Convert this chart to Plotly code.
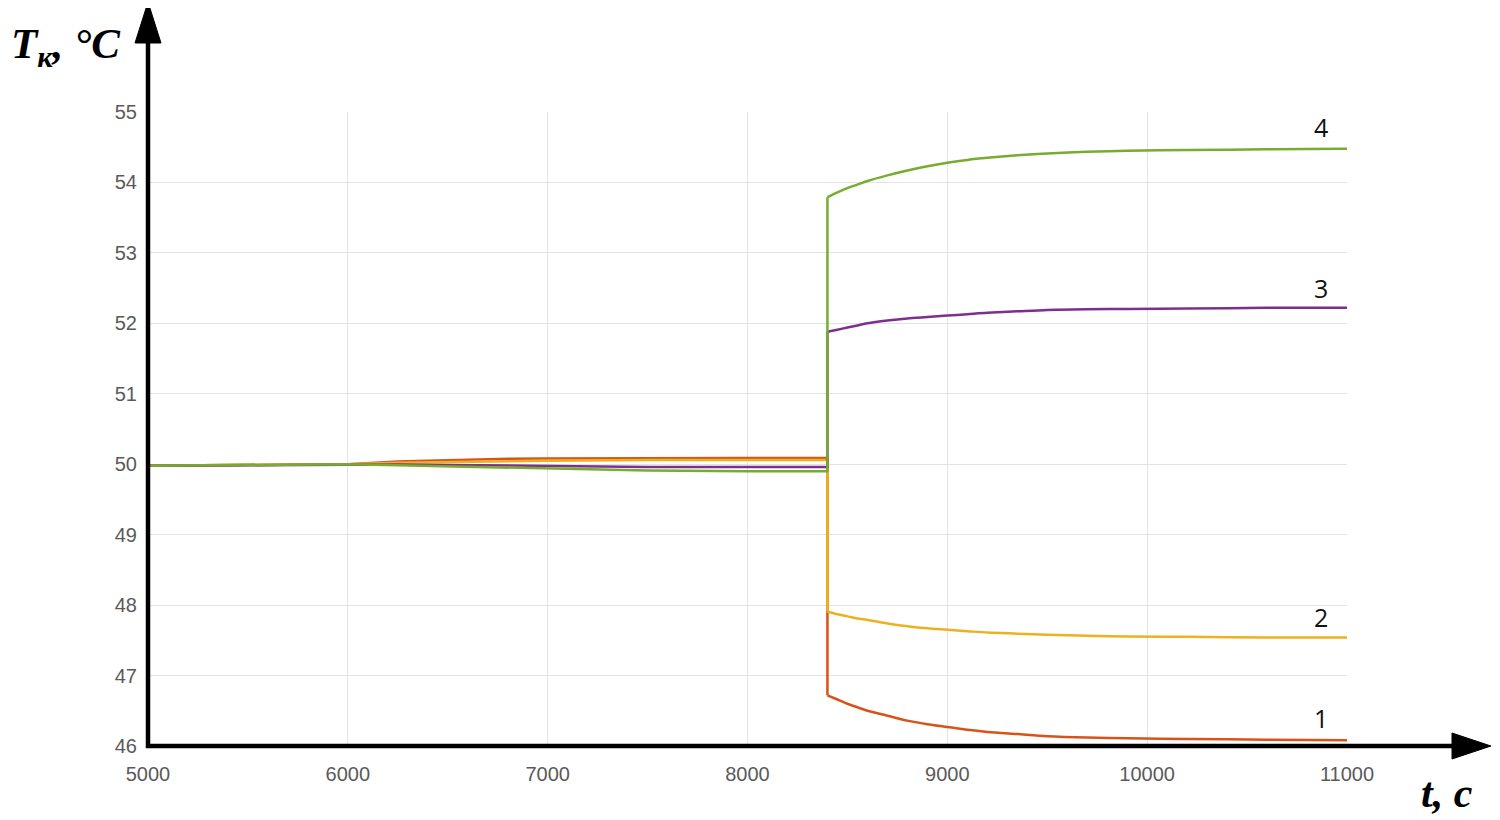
import plotly.graph_objects as go

# ---- data ----
t = [5000, 5500, 6000, 6250, 6500, 6750, 7000, 7500, 8000, 8400,
     8400, 8450, 8500, 8550, 8600, 8700, 8800, 8900, 9000, 9100, 9200,
     9350, 9500, 9700, 9900, 10200, 10600, 11000]

T1 = [49.98, 49.99, 50.0, 50.04, 50.06, 50.075, 50.08, 50.09, 50.09, 50.09,
      46.72, 46.66, 46.60, 46.55, 46.50, 46.43, 46.36, 46.31, 46.27, 46.23, 46.20,
      46.17, 46.14, 46.12, 46.11, 46.10, 46.09, 46.08]
T2 = [49.98, 49.99, 50.0, 50.02, 50.03, 50.045, 50.05, 50.06, 50.06, 50.06,
      47.91, 47.87, 47.84, 47.81, 47.79, 47.74, 47.70, 47.67, 47.65, 47.63, 47.61,
      47.595, 47.58, 47.565, 47.555, 47.55, 47.54, 47.54]
T3 = [49.98, 49.99, 50.0, 49.995, 49.99, 49.98, 49.97, 49.96, 49.96, 49.96,
      51.88, 51.91, 51.94, 51.97, 52.00, 52.04, 52.07, 52.09, 52.11, 52.13, 52.15,
      52.17, 52.19, 52.20, 52.205, 52.21, 52.22, 52.22]
T4 = [49.98, 49.99, 50.0, 49.985, 49.97, 49.95, 49.93, 49.91, 49.90, 49.90,
      53.79, 53.86, 53.92, 53.97, 54.02, 54.10, 54.17, 54.23, 54.28, 54.32, 54.35,
      54.385, 54.41, 54.435, 54.45, 54.46, 54.47, 54.48]

JUMP = 10  # index of first point after the step at t = 8400

series = [("1", T1, "#D95319"), ("2", T2, "#EDB120"),
          ("3", T3, "#7E2F8E"), ("4", T4, "#77AC30")]

x_ticks = [5000, 6000, 7000, 8000, 9000, 10000, 11000]
y_ticks = [46, 47, 48, 49, 50, 51, 52, 53, 54, 55]

# curve-number labels: (text, x, y)
curve_labels = [("4", 10870, 54.79), ("3", 10870, 52.50),
                ("2", 10870, 47.83), ("1", 10870, 46.40)]

# ---- layout geometry (page pixels; page body has an 8px offset) ----
OFF = 8
W, H = 1500 - OFF, 820 - OFF
L, R, TOP, BOT = 148, 1347, 112, 746   # plot area in page pixels


def px(xpix):
    return (xpix - L) / (R - L)


def py(ypix):
    return (BOT - ypix) / (BOT - TOP)


fig = go.Figure()
for name, vals, col in series:
    # pre-step part including the vertical step (straight segments)
    fig.add_trace(go.Scatter(x=t[:JUMP + 1], y=vals[:JUMP + 1], mode="lines", name=name,
                             line=dict(color=col, width=2.5),
                             showlegend=False, hoverinfo="x+y"))
    # post-step relaxation (smooth)
    fig.add_trace(go.Scatter(x=t[JUMP:], y=vals[JUMP:], mode="lines", name=name,
                             line=dict(color=col, width=2.5, shape="spline", smoothing=0.8),
                             showlegend=False, hoverinfo="x+y"))

tick_font = dict(family="Liberation Sans, Arial, sans-serif", size=20, color="#5a5a5a")

fig.update_layout(
    width=W, height=H,
    margin=dict(l=L - OFF, r=1500 - R, t=TOP - OFF, b=820 - BOT, pad=0),
    paper_bgcolor="white", plot_bgcolor="white",
    xaxis=dict(range=[5000, 11000], tickvals=x_ticks, ticktext=[str(v) for v in x_ticks],
               showgrid=True, gridcolor="#e3e3e3", gridwidth=1,
               zeroline=False, showline=False, ticks="", tickfont=tick_font,
               ticklabelstandoff=14),
    yaxis=dict(range=[46, 55], tickvals=y_ticks, ticktext=[str(v) for v in y_ticks],
               showgrid=True, gridcolor="#e3e3e3", gridwidth=1,
               zeroline=False, showline=False, ticks="", tickfont=tick_font,
               ticklabelstandoff=10),
)

shapes = []
# axis lines (thick black) with arrowheads
shapes.append(dict(type="line", xref="paper", yref="paper",
                   x0=px(148), y0=py(748), x1=px(148), y1=py(36),
                   line=dict(color="black", width=4.5)))
shapes.append(dict(type="path", xref="paper", yref="paper",
                   path=f"M {px(148)} {py(2)} L {px(135)} {py(43)} L {px(161)} {py(43)} Z",
                   fillcolor="black", line=dict(color="black", width=1)))
shapes.append(dict(type="line", xref="paper", yref="paper",
                   x0=px(146), y0=py(746), x1=px(1456), y1=py(746),
                   line=dict(color="black", width=4.5)))
shapes.append(dict(type="path", xref="paper", yref="paper",
                   path=f"M {px(1491)} {py(746)} L {px(1452)} {py(733)} L {px(1452)} {py(759)} Z",
                   fillcolor="black", line=dict(color="black", width=1)))
fig.update_layout(shapes=shapes)

annotations = []
annotations.append(dict(xref="paper", yref="paper", x=px(9), y=py(47),
                        xanchor="left", yanchor="middle", showarrow=False,
                        text="<b><i>T<sub>к</sub>, °C</i></b>",
                        font=dict(family="Liberation Serif, Times New Roman, serif",
                                  size=43, color="black")))
annotations.append(dict(xref="paper", yref="paper", x=px(1447), y=py(793),
                        xanchor="center", yanchor="middle", showarrow=False,
                        text="<b><i>t, c</i></b>",
                        font=dict(family="Liberation Serif, Times New Roman, serif",
                                  size=42, color="black")))
for txt, xv, yv in curve_labels:
    annotations.append(dict(x=xv, y=yv, xref="x", yref="y", text=txt, showarrow=False,
                            xanchor="center", yanchor="middle",
                            font=dict(family="Open Sans, Noto Sans, sans-serif",
                                      size=25, color="#111111")))
fig.update_layout(annotations=annotations)

fig.write_html("out.html")
